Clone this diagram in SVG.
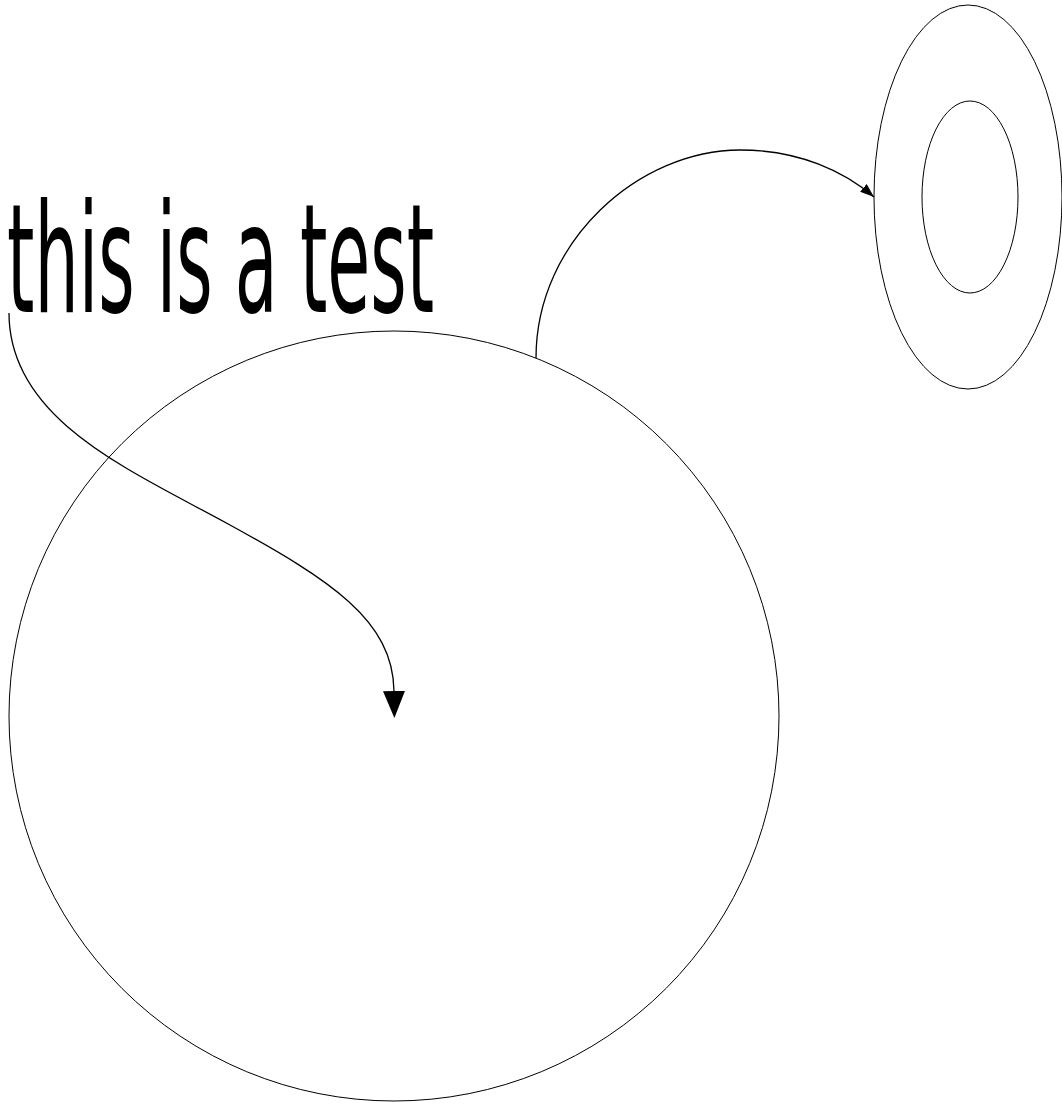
<svg xmlns="http://www.w3.org/2000/svg" width="1062" height="1104" viewBox="0 0 1062 1104">
<style>
.n{fill:none;stroke:#000;stroke-width:1}
.c{fill:none;stroke:#000;stroke-width:1.3}
.t{font-family:"DejaVu Sans",sans-serif;font-size:152px;fill:#000}
</style>
<defs>
<marker id="big" markerWidth="27" markerHeight="22" refX="0" refY="11" orient="auto" markerUnits="userSpaceOnUse" viewBox="0 0 27 22"><path d="M0,0 L27,11 L0,22 Z" fill="#000"/></marker>
<marker id="small" markerWidth="14" markerHeight="10" refX="14" refY="5" orient="auto" markerUnits="userSpaceOnUse" viewBox="0 0 14 10"><path d="M0,0 L14,5 L0,10 Z" fill="#000"/></marker>
</defs>
<rect width="1062" height="1104" fill="#fff"/>
<g id="node-big-circle"><circle class="n" cx="394" cy="716" r="385"/></g>
<g id="node-ring"><ellipse class="n" cx="968" cy="197" rx="94" ry="192"/><ellipse class="n" cx="970" cy="197" rx="48" ry="96"/></g>
<g id="node-label"><text class="t" transform="translate(7,312) scale(0.46,1)">this is a test</text></g>
<g id="connectors">
<path class="c" d="M9,313 C9,420 130,470 230,525 C330,580 393,620 394,691" marker-end="url(#big)"/>
<path class="c" d="M536,358 C536,240 640,150 740,150 C800,150 845,172 874,197" marker-end="url(#small)"/>
</g>
</svg>
